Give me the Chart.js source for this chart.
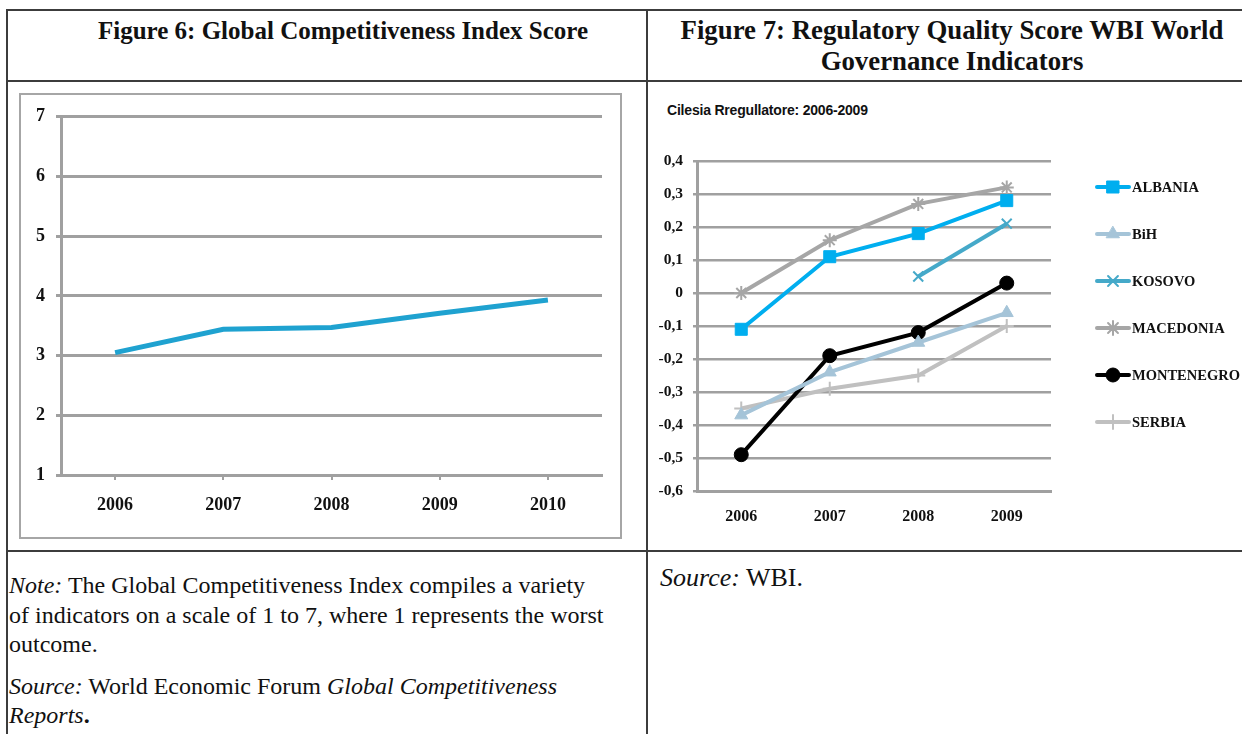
<!DOCTYPE html>
<html>
<head>
<meta charset="utf-8">
<script src="https://cdn.jsdelivr.net/npm/chart.js@4/dist/chart.umd.min.js"></script>
<style>
   body { margin: 0; background: #fff; width: 1242px; height: 734px; overflow: hidden; position: relative; font-family: 'Liberation Serif', 'Times New Roman', serif; color: #111; }
   .hline, .vline { position: absolute; background: #3c3c3c; }
   .hline { height: 2px; }
   .vline { width: 2px; }
   .head { position: absolute; font-weight: bold; font-size: 25px; line-height: 31px; text-align: center; white-space: nowrap; }
   .frame { position: absolute; left: 19px; top: 93px; width: 599px; height: 442px; border: 2px solid #a6a6a6; }
   canvas { position: absolute; }
   .note { position: absolute; font-size: 24px; line-height: 29.5px; white-space: nowrap; }
   .note p { margin: 0 0 12px 0; }
   .ctitle { position: absolute; left: 667px; top: 102px; font-family: 'Liberation Sans', Arial, sans-serif; font-weight: bold; font-size: 14px; letter-spacing: -0.2px; white-space: nowrap; }
</style>
</head>
<body>

<div class="hline" style="left:7px; top:9px; width:1235px;"></div>
<div class="hline" style="left:7px; top:80px; width:1235px;"></div>
<div class="hline" style="left:7px; top:550px; width:1235px;"></div>
<div class="vline" style="left:6px; top:9px; height:725px;"></div>
<div class="vline" style="left:646px; top:9px; height:725px;"></div>

<div class="head" style="left:43px; top:15px; width:600px;">Figure 6: Global Competitiveness Index Score</div>
<div class="head" style="left:652px; top:15px; width:600px; font-size:26.8px;">Figure 7: Regulatory Quality Score WBI World<br>Governance Indicators</div>

<div class="frame"></div>
<canvas id="gciChart" width="599" height="442" style="left:21px; top:95px;"></canvas>
<div class="ctitle" id="rqTitle"></div>
<canvas id="rqChart" width="590" height="464" style="left:650px; top:84px;"></canvas>

<div class="note" style="left:9px; top:571px;">
   <p><i>Note:</i> The Global Competitiveness Index compiles a variety<br>of indicators on a scale of 1 to 7, where 1 represents the worst<br>outcome.</p>
   <p><i>Source:</i> World Economic Forum <i>Global Competitiveness</i><br><i>Reports</i><b>.</b></p>
</div>
<div class="note" style="left:660px; top:563px; font-size:26px;"><i>Source:</i> WBI.</div>

<script>
// данные
const gciYears = ['2006', '2007', '2008', '2009', '2010'];
const gciScore = [3.05, 3.44, 3.47, 3.71, 3.93];

const rqYears = ['2006', '2007', '2008', '2009'];
const rqTitle = 'Cilesia Rregullatore: 2006-2009';
const countries = ['ALBANIA', 'BiH', 'KOSOVO', 'MACEDONIA', 'MONTENEGRO', 'SERBIA'];
const albania = [-0.11, 0.11, 0.18, 0.28];
const bih = [-0.37, -0.24, -0.15, -0.06];
const kosovo = [null, null, 0.05, 0.21];
const macedonia = [0.00, 0.16, 0.27, 0.32];
const montenegro = [-0.49, -0.19, -0.12, 0.03];
const serbia = [-0.35, -0.29, -0.25, -0.10];

const serif = "'Liberation Serif', 'Times New Roman', serif";
const gridGray = '#a0a0a0';

Chart.defaults.font.family = serif;
Chart.defaults.font.weight = 'bold';
Chart.defaults.color = '#111';

document.getElementById('rqTitle').textContent = rqTitle;

// левый график - индекс конкурентоспособности
new Chart(document.getElementById('gciChart'), {
   type: 'line',
   data: {
      labels: gciYears,
      datasets: [{
         data: gciScore,
         borderColor: '#1fa2d0',
         borderWidth: 5,
         pointRadius: 0,
         tension: 0
      }]
   },
   options: {
      responsive: false,
      animation: false,
      devicePixelRatio: 1,
      layout: { padding: { top: 20, right: 18, left: 0, bottom: 0 } },
      plugins: { legend: { display: false }, tooltip: { enabled: false } },
      scales: {
         x: {
            offset: true,
            afterFit: (scale) => { scale.height = 62; },
            border: { color: gridGray, width: 3 },
            grid: { drawOnChartArea: false, drawTicks: true, tickLength: 5, color: gridGray, lineWidth: 2 },
            ticks: { padding: 15, font: { size: 18 } }
         },
         y: {
            min: 1,
            max: 7,
            afterFit: (scale) => { scale.width = 40; },
            border: { color: gridGray, width: 3 },
            grid: { color: gridGray, lineWidth: 3, tickLength: 5 },
            ticks: { stepSize: 1, padding: 11, font: { size: 18 } }
         }
      }
   }
});

// легенда справа: линия с маркером, как в Excel
const sideLegend = {
   id: 'sideLegend',
   afterDraw(chart) {
      const ctx = chart.ctx;
      const area = chart.chartArea;
      const x0 = area.right + 46;
      chart.data.datasets.forEach((ds, i) => {
         const y = area.top + 26 + i * 47;
         ctx.save();
         ctx.strokeStyle = ds.borderColor;
         ctx.lineWidth = 4;
         ctx.lineCap = 'round';
         ctx.beginPath();
         ctx.moveTo(x0, y);
         ctx.lineTo(x0 + 32, y);
         ctx.stroke();
         ctx.fillStyle = ds.pointBackgroundColor;
         ctx.strokeStyle = ds.borderColor;
         ctx.lineWidth = ds.pointBorderWidth;
         if (Chart.helpers && Chart.helpers.drawPoint) {
            Chart.helpers.drawPoint(ctx, { pointStyle: ds.pointStyle, radius: ds.pointRadius, rotation: 0, borderWidth: ds.pointBorderWidth }, x0 + 16, y);
         }
         ctx.fillStyle = '#111';
         ctx.font = 'bold 14.5px ' + serif;
         ctx.textBaseline = 'middle';
         ctx.textAlign = 'left';
         ctx.fillText(ds.label, x0 + 35, y + 1);
         ctx.restore();
      });
   }
};

function series(label, values, color, style, radius, bw) {
   return {
      label: label,
      data: values,
      borderColor: color,
      backgroundColor: color,
      pointBackgroundColor: color,
      pointBorderColor: color,
      borderWidth: 4,
      pointStyle: style,
      pointRadius: radius,
      pointBorderWidth: bw,
      tension: 0
   };
}

// правый график - качество регулирования
new Chart(document.getElementById('rqChart'), {
   type: 'line',
   data: {
      labels: rqYears,
      datasets: [
         series(countries[0], albania, '#00aeef', 'rect', 8.5, 1),
         series(countries[1], bih, '#a5c4d8', 'triangle', 7.5, 1),
         series(countries[2], kosovo, '#45a9c9', 'crossRot', 7, 2),
         series(countries[3], macedonia, '#a6a6a6', 'star', 7, 2),
         series(countries[4], montenegro, '#000000', 'circle', 7, 1),
         series(countries[5], serbia, '#c0c0c0', 'cross', 7, 2)
      ]
   },
   options: {
      responsive: false,
      animation: false,
      devicePixelRatio: 1,
      layout: { padding: { top: 77, right: 189, left: 0, bottom: 0 } },
      plugins: { legend: { display: false }, tooltip: { enabled: false } },
      scales: {
         x: {
            offset: true,
            afterFit: (scale) => { scale.height = 57; },
            border: { color: gridGray, width: 3 },
            grid: { drawOnChartArea: false, drawTicks: false },
            ticks: { padding: 16, font: { size: 16 } }
         },
         y: {
            min: -0.6,
            max: 0.4,
            afterFit: (scale) => { scale.width = 47; },
            border: { color: gridGray, width: 3 },
            grid: { color: gridGray, lineWidth: 2.5, tickLength: 4 },
            ticks: {
               stepSize: 0.1,
               padding: 10,
               font: { size: 15.5 },
               callback: (v) => Math.abs(v) < 1e-9 ? '0' : Number(v).toFixed(1).replace('.', ',')
            }
         }
      }
   },
   plugins: [sideLegend]
});
</script>
</body>
</html>
